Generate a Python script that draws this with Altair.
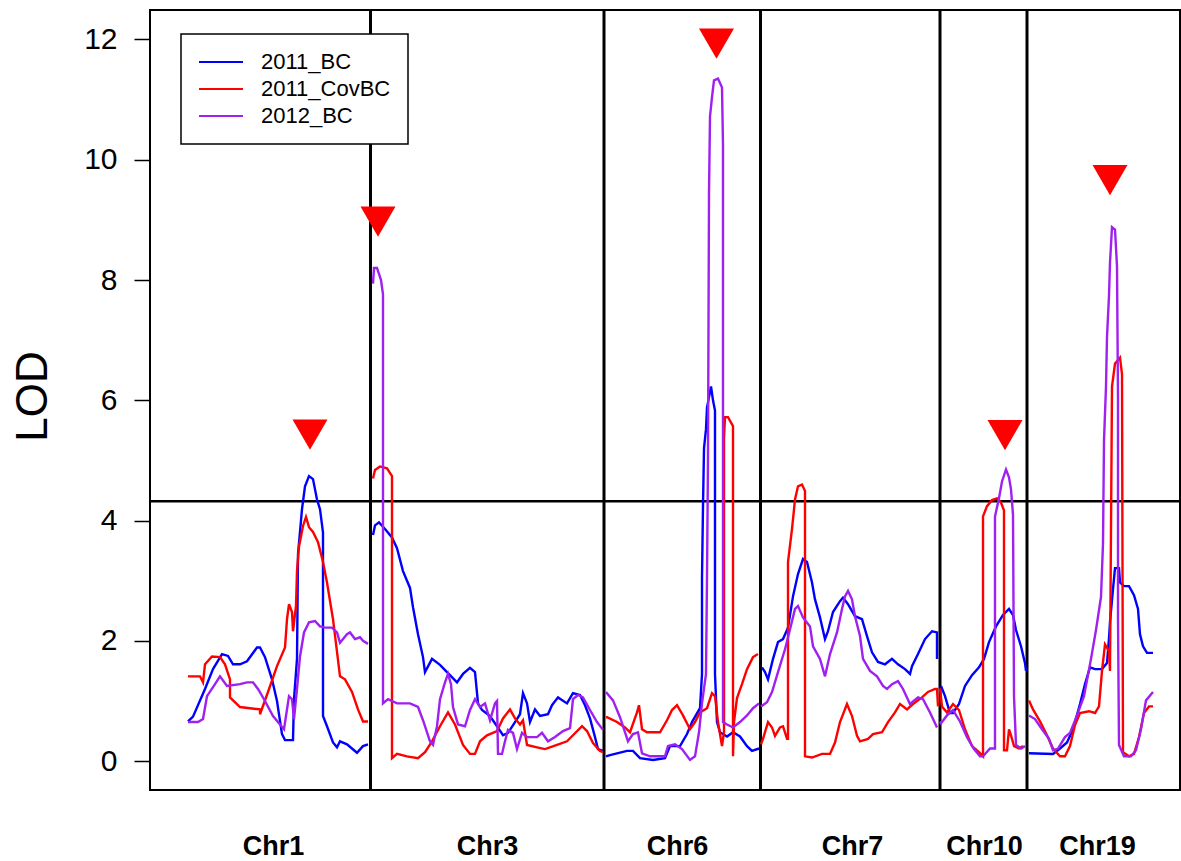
import altair as alt
import pandas as pd

# ---------------- data ----------------
series_names = ["2011_BC", "2011_CovBC", "2012_BC"]
series_colors = ["#0000FF", "#FF0000", "#A020F0"]

chr_names = ["Chr1", "Chr3", "Chr6", "Chr7", "Chr10", "Chr19"]
chr_label_pos = [123, 337, 527, 702, 834, 947]
chr_bounds = [220.5, 454, 610.5, 790, 877]
threshold = [4.32]

peak_pos = [160, 228, 566.5, 855, 960]
peak_lod = [5.43, 8.97, 11.93, 5.42, 9.66]

y_ticks = [0, 2, 4, 6, 8, 10, 12]

# (position, LOD) pairs per chromosome and series
chr1_bc = [(38,.66),(43,.74),(55,1.2),(63,1.53),(72,1.78),(78,1.75),(83,1.61),(90,1.61),(97,1.66),(107,1.89),
           (110,1.89),(115,1.73),(122,1.36),(127,1.0),(132,.45),(135,.35),(143,.35),(144,1.03),(147,1.7),(148,3.44),
           (152,4.19),(155,4.57),(159,4.74),(163,4.69),(167,4.35),(170,4.19),(173,3.8),(173,.75),(177,.58),(183,.31),
           (187,.23),(190,.33),(197,.28),(207,.14),(213,.25),(218,.28)]
chr1_cov = [(38,1.41),(50,1.41),(53,1.31),(55,1.61),(62,1.74),(70,1.73),(75,1.61),(80,1.36),(80,1.06),(90,.9),
            (110,.86),(110,.78),(118,1.15),(127,1.58),(135,1.89),(137,2.36),(139,2.61),(142,2.48),(143,2.16),(146,2.58),
            (147,3.16),(149,3.57),(153,3.91),(156,4.06),(159,3.89),(163,3.81),(168,3.64),(173,3.31),(177,2.97),(183,2.36),
            (190,1.41),(195,1.36),(202,1.15),(208,.86),(213,.66),(218,.66)]
chr1_12 = [(38,.65),(48,.65),(53,.7),(57,1.08),(65,1.28),(70,1.41),(77,1.25),(90,1.28),(97,1.31),(103,1.31),
           (108,1.2),(115,1.0),(123,.75),(130,.61),(134,.53),(136,.75),(139,1.08),(142,1.03),(144,.7),(147,1.2),
           (150,1.74),(154,2.14),(159,2.31),(165,2.33),(170,2.24),(175,2.22),(182,2.22),(187,2.14),(190,1.97),(197,2.11),
           (200,2.14),(205,2.03),(210,2.06),(213,2.0),(218,1.95)]

chr3_bc = [(223,3.76),(225,3.92),(229,3.97),(235,3.86),(242,3.72),(247,3.54),(253,3.16),(260,2.88),(263,2.56),(268,2.11),
           (273,1.73),(275,1.48),(282,1.7),(290,1.6),(297,1.48),(307,1.31),(313,1.45),(320,1.55),(325,1.48),(328,.96),
           (332,.85),(340,.75),(347,.58),(353,.43),(358,.47),(365,.65),(370,.78),(373,1.13),(377,.96),(380,.65),
           (385,.86),(390,.75),(398,.78),(402,.93),(408,1.06),(417,.96),(423,1.13),(430,1.1),(435,.93),(440,.71),
           (445,.4),(448,.2),(453,.17)]
chr3_cov = [(223,4.7),(225,4.84),(230,4.9),(237,4.87),(242,4.74),(242,.05),(247,.12),(257,.08),(268,.05),(275,.15),
            (282,.33),(290,.58),(298,.81),(305,.61),(313,.27),(320,.12),(325,.12),(330,.33),(337,.43),(347,.5),
            (353,.71),(360,.86),(365,.71),(370,.61),(373,.68),(377,.27),(387,.23),(395,.2),(407,.27),(417,.33),
            (423,.43),(432,.58),(437,.5),(443,.3),(450,.17),(453,.15)]
chr3_12 = [(223,7.94),(224,8.2),(227,8.2),(231,8.0),(233,7.76),(233,.96),(238,1.03),(247,.96),(260,.96),(268,.9),
           (273,.68),(280,.33),(283,.27),(287,.58),(290,1.03),(295,1.31),(298,1.45),(301,1.28),(303,.9),(308,.61),
           (315,.58),(320,.85),(325,1.03),(330,.9),(335,.96),(340,.68),(345,.96),(347,1.0),(348,.12),(352,.12),
           (355,.33),(358,.52),(363,.47),(367,.2),(372,.47),(377,.4),(387,.4),(392,.47),(398,.33),(405,.4),
           (413,.5),(420,.55),(423,1.03),(428,1.1),(433,1.06),(440,.85),(447,.65),(453,.52)]

chr6_bc = [(456,.08),(460,.1),(477,.17),(483,.17),(490,.05),(503,.02),(515,.05),(520,.25),(530,.25),(537,.45),
           (542,.65),(550,.88),(552,1.45),(552,3.04),(553,4.24),(554,5.2),(556,5.52),(557,5.88),(561,6.23),(563,6.0),
           (565,5.83),(565,1.45),(567,.65),(570,.48),(577,.41),(583,.48),(590,.41),(597,.25),(602,.17),(609,.21)]
chr6_cov = [(456,.73),(457,.73),(467,.65),(475,.56),(480,.48),(487,.81),(489,.93),(492,.53),(497,.48),(510,.48),
            (517,.68),(522,.85),(527,.93),(533,.76),(540,.53),(545,.65),(550,.81),(557,.88),(562,1.13),(565,1.08),
            (568,.65),(572,.25),(574,.48),(574,5.37),(575,5.72),(578,5.72),(583,5.57),(583,.08),(584,.65),(587,1.05),
            (592,1.28),(597,1.53),(603,1.73),(608,1.78)]
chr6_12 = [(456,1.15),(457,1.13),(463,1.01),(470,.73),(478,.33),(483,.45),(488,.48),(492,.13),(500,.08),(515,.08),
           (518,.25),(525,.28),(532,.2),(540,.02),(545,.08),(549,.48),(552,.96),(556,1.45),(557,3.04),(558,5.04),
           (559,9.44),(560,10.72),(562,11.04),(564,11.32),(568,11.35),(572,11.2),(573,10.24),(573,5.44),(573,.65),(577,.61),
           (583,.56),(590,.65),(597,.76),(603,.88),(609,.96)]

chr7_bc = [(612,1.56),(615,1.48),(618,1.36),(623,1.7),(628,1.98),(633,2.03),(638,2.22),(643,2.74),(648,3.11),(653,3.36),
           (657,3.31),(662,2.97),(665,2.69),(670,2.39),(675,2.03),(678,2.16),(683,2.48),(690,2.66),(693,2.72),(698,2.61),
           (705,2.41),(712,2.36),(717,2.08),(722,1.81),(728,1.65),(735,1.61),(742,1.7),(748,1.61),(755,1.53),(760,1.45),
           (762,1.58),(768,1.78),(775,2.03),(782,2.16),(787,2.14),(787,1.7)]
chr7_cov = [(611,.28),(613,.37),(618,.65),(622,.56),(625,.42),(630,.56),(633,.58),(637,.37),(638,.37),(638,3.31),
            (642,3.86),(645,4.35),(648,4.57),(652,4.6),(655,4.49),(655,.08),(662,.06),(672,.12),(680,.12),(685,.31),
            (690,.65),(697,.95),(702,.75),(707,.42),(710,.33),(718,.37),(723,.45),(732,.48),(738,.65),(745,.81),
            (750,.95),(757,.86),(763,.95),(772,1.06),(778,1.15),(785,1.2),(787,1.2),(788,.91)]
chr7_12 = [(611,.91),(617,.98),(622,1.15),(628,1.48),(635,1.86),(640,2.19),(645,2.53),(648,2.58),(653,2.39),(660,2.24),
           (663,1.91),(670,1.7),(675,1.41),(680,1.78),(687,2.14),(692,2.53),(695,2.74),(698,2.83),(702,2.69),(705,2.41),
           (710,2.08),(713,1.7),(720,1.5),(727,1.41),(733,1.25),(737,1.2),(742,1.28),(748,1.33),(753,1.2),(760,.95),
           (768,1.06),(773,1.03),(780,.81),(787,.56)]

chr10_bc = [(791,1.25),(795,1.08),(800,.8),(803,.8),(809,.95),(815,1.25),(822,1.43),(829,1.56),(834,1.7),(839,1.98),
            (846,2.24),(853,2.43),(859,2.53),(863,2.43),(866,2.18),(871,1.91),(875,1.63),(876,1.5)]
chr10_cov = [(790,1.21),(792,.91),(797,.81),(803,.95),(809,.85),(815,.53),(822,.25),(829,.15),(833,.08),(833,4.07),
             (837,4.24),(842,4.34),(847,4.37),(851,4.3),(854,4.17),(854,.18),(857,.18),(859,.53),(861,.43),(864,.25),
             (869,.21),(873,.25)]
chr10_12 = [(790,.66),(791,.63),(797,.76),(803,.85),(810,.66),(817,.4),(824,.2),(830,.08),(833,.08),(840,.21),
            (845,.21),(845,4.07),(849,4.37),(852,4.65),(856,4.85),(859,4.72),(861,4.52),(863,4.1),(864,1.08),(866,.27),
            (871,.21),(875,.25)]

chr19_bc = [(879,.13),(903,.12),(910,.21),(917,.31),(923,.53),(930,.95),(935,1.28),(940,1.56),(945,1.53),(952,1.53),
            (957,1.63),(959,2.04),(960,2.31),(963,2.86),(965,3.21),(969,3.21),(970,2.97),(974,2.91),(979,2.91),(984,2.76),
            (988,2.53),(990,2.11),(993,1.91),(997,1.8),(1003,1.8)]
chr19_cov = [(879,1.01),(883,.86),(890,.66),(897,.43),(903,.21),(910,.08),(915,.08),(920,.25),(925,.6),(930,.8),
             (939,.83),(945,.8),(949,.91),(952,1.5),(955,1.94),(959,1.83),(960,1.5),(962,6.23),(965,6.61),(970,6.71),
             (972,6.43),(973,.15),(979,.08),(984,.12),(989,.4),(994,.8),(999,.91),(1003,.91)]
chr19_12 = [(879,.76),(885,.7),(892,.53),(899,.37),(903,.18),(908,.21),(915,.4),(920,.47),(927,.76),(934,1.08),
            (941,1.7),(946,2.18),(951,2.73),(953,3.62),(954,5.33),(956,6.23),(957,7.05),(959,7.74),(960,8.29),(962,8.88),
            (965,8.84),(967,8.23),(968,6.02),(968,2.38),(969,.27),(974,.08),(981,.08),(986,.18),(991,.53),(996,1.01),
            (1003,1.15)]

curves = {
    "Chr1": [chr1_bc, chr1_cov, chr1_12],
    "Chr3": [chr3_bc, chr3_cov, chr3_12],
    "Chr6": [chr6_bc, chr6_cov, chr6_12],
    "Chr7": [chr7_bc, chr7_cov, chr7_12],
    "Chr10": [chr10_bc, chr10_cov, chr10_12],
    "Chr19": [chr19_bc, chr19_cov, chr19_12],
}

rows = []
for c in chr_names:
    for s, pts in zip(series_names, curves[c]):
        for i, (p, v) in enumerate(pts):
            rows.append({"chr": c, "series": s, "pos": p, "lod": v, "idx": i})
df = pd.DataFrame(rows)

# ---------------- chart ----------------
FONT = "Liberation Sans"

label_map = "{" + ",".join(f"'{p}':'{n}'" for p, n in zip(chr_label_pos, chr_names)) + "}[datum.value]"

x_enc = alt.X(
    "pos:Q",
    scale=alt.Scale(domain=[0, 1030], nice=False, zero=False),
    axis=alt.Axis(values=chr_label_pos, labelExpr=label_map, ticks=False, domain=False, grid=False,
                  labelFontSize=27, labelFontWeight="bold", labelFont=FONT, labelColor="black",
                  labelPadding=64, labelBaseline="alphabetic", labelOverlap=False, labelFlush=False,
                  title=None),
)
y_enc = alt.Y(
    "lod:Q",
    scale=alt.Scale(domain=[-0.48, 12.49], nice=False, zero=False),
    axis=alt.Axis(values=y_ticks, tickSize=16, tickWidth=1.5, tickColor="black", domain=False, grid=False,
                  labelFontSize=30, labelFont=FONT, labelColor="black", labelPadding=17,
                  title="LOD", titleFontSize=44, titleFont=FONT, titleFontWeight="normal", titleColor="black",
                  titleAngle=270, titleX=-117, titleY=386, titleAlign="center", titleBaseline="middle"),
)

seps = alt.Chart(pd.DataFrame({"pos": chr_bounds})).mark_rule(color="black", strokeWidth=3).encode(x=x_enc)
thr = alt.Chart(pd.DataFrame({"lod": threshold})).mark_rule(color="black", strokeWidth=2.5).encode(y=y_enc)

lines = alt.Chart(df).mark_line(strokeWidth=2.4).encode(
    x=x_enc,
    y=y_enc,
    color=alt.Color("series:N", scale=alt.Scale(domain=series_names, range=series_colors),
                    legend=alt.Legend(title=None, orient="none", legendX=31, legendY=24,
                                      symbolType="M-5,0L17,0", symbolSize=16, symbolStrokeWidth=2,
                                      labelFontSize=22, labelFont=FONT, labelColor="black", labelOffset=41,
                                      padding=17, rowPadding=5, fillColor="white", strokeColor="black")),
    detail="chr:N",
    order="idx:Q",
)

peaks = alt.Chart(pd.DataFrame({"pos": peak_pos, "lod": peak_lod})).mark_point(
    shape="triangle-down", filled=True, size=1225, color="#FF0000", opacity=1, strokeWidth=0
).encode(x=x_enc, y=y_enc)

chart = alt.layer(seps, thr, lines, peaks).properties(
    width=1030, height=780,
    autosize=alt.AutoSizeParams(type="none"),
    padding={"left": 150, "top": 10, "right": 1, "bottom": 71},
    background="white",
).configure_view(stroke="black", strokeWidth=2).configure_legend(strokeWidth=1.5)

chart.save("out.html", embed_options={"renderer": "svg", "actions": False})
